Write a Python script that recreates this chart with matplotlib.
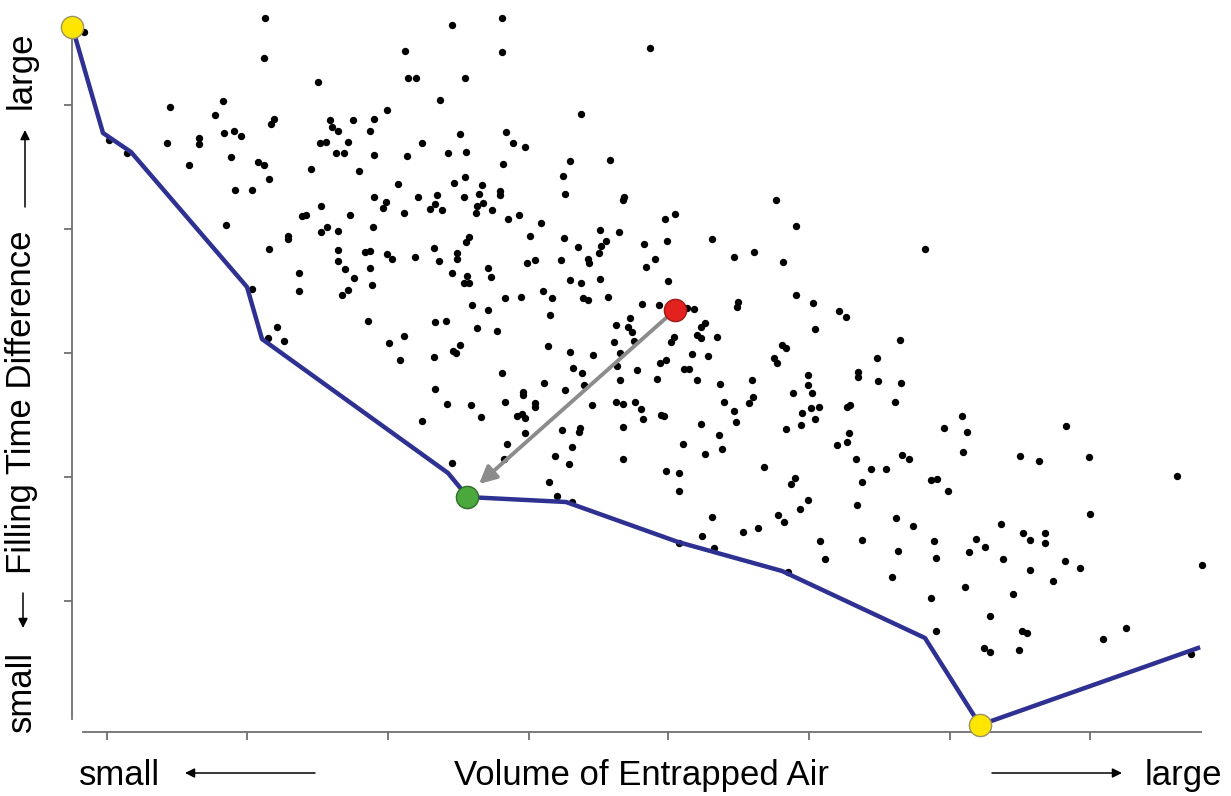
import matplotlib.pyplot as plt

plt.rcParams['font.family'] = ['Liberation Sans', 'DejaVu Sans']

# design evaluations (arbitrary units: x = entrapped air, y = filling time difference)
dots_x = [84, 109, 127, 265, 264, 318, 170, 223, 215, 274,
          271, 387, 330, 353, 374, 332, 338, 370, 167, 199,
          199, 224, 234, 241, 320, 326, 348, 336, 344, 374,
          189, 231, 258, 264, 269, 311, 359, 235, 252, 374,
          386, 383, 321, 302, 306, 350, 226, 288, 288, 327,
          321, 338, 373, 269, 338, 365, 370, 387, 392, 338,
          345, 370, 299, 354, 372, 299, 348, 342, 252, 368,
          277, 268, 284, 389,
          502, 452, 405, 502, 650, 408, 416, 465, 440, 581,
          460, 506, 422, 513, 525, 407, 448, 466, 503, 570,
          610, 398, 454, 465, 482, 563, 418, 437, 464, 479,
          500, 500, 565, 624, 623, 404, 435, 430, 442, 476,
          477, 483, 492, 508, 519, 541, 675, 665, 530, 469,
          466, 564, 600, 619, 578, 606, 601, 644, 667, 712,
          434, 415, 439, 457, 457, 535, 527, 561, 588, 589,
          599, 655, 646, 488, 491, 452, 467, 464, 469, 570,
          581, 600, 668, 543, 552, 505, 521, 583, 588, 608,
          472, 488, 642, 659, 687, 694, 550, 435, 446, 477,
          497, 404, 630, 616, 628, 632, 705, 701, 674, 697,
          701,
          776, 796, 734, 754, 783, 925, 796, 738, 737, 813,
          839, 846, 815, 717, 900,
          548, 460, 456, 453, 400, 434, 570, 593, 614, 634,
          671, 620, 692, 708, 660, 666, 573, 582, 617, 637,
          684, 689, 502, 544, 435, 565, 584, 620, 657, 697,
          523, 523, 447, 471, 505, 535, 535, 592, 616, 623,
          635, 641, 643, 661, 664, 481, 517, 522, 525, 422,
          562, 580, 579, 623, 701, 525, 507, 572, 555, 569,
          623, 683, 705, 504, 452, 666, 679, 679, 549, 557,
          572, 712, 702, 679,
          782, 786, 774, 777, 877, 858, 858, 808, 808, 720,
          752, 878, 901, 793, 812, 724, 753, 749, 895, 734,
          736, 802, 811, 819, 815, 801, 786, 847, 850, 849,
          847, 837, 719, 722, 962, 944, 967, 963, 1020, 856,
          871, 886, 902, 909, 764, 795, 791, 862, 931, 937,
          948, 808, 800, 857, 778, 784, 896, 913, 743, 758,
          1001, 1023, 1030, 820, 825, 862, 898, 934, 936, 976,
          985, 969, 1003, 1030, 714, 788, 892, 965, 1013, 931,
          990, 936, 1022, 1027, 984, 990, 1019,
          1066, 1039, 1089, 1177, 1090, 1045, 1045, 1065, 1080, 1053,
          1202, 1126, 1103, 1191]
dots_y = [768, 660, 647, 782, 742, 718, 693, 699, 685, 681,
          676, 690, 680, 680, 681, 673, 669, 669, 657, 662,
          656, 667, 669, 664, 657, 658, 658, 647, 647, 645,
          635, 643, 638, 635, 621, 631, 629, 610, 610, 603,
          598, 592, 594, 584, 585, 585, 575, 564, 561, 573,
          568, 569, 573, 551, 550, 548, 549, 546, 541, 539,
          531, 532, 527, 522, 515, 509, 510, 505, 511, 479,
          473, 462, 459, 457,
          782, 775, 749, 748, 752, 722, 722, 722, 700, 686,
          666, 668, 657, 657, 653, 644, 647, 648, 636, 639,
          640, 616, 617, 623, 615, 624, 603, 605, 603, 606,
          609, 605, 606, 603, 600, 587, 596, 591, 590, 587,
          594, 597, 590, 581, 585, 577, 586, 581, 564, 563,
          558, 562, 570, 568, 553, 559, 554, 556, 559, 561,
          552, 543, 539, 547, 541, 540, 537, 540, 541, 537,
          547, 541, 533, 532, 523, 527, 524, 517, 517, 520,
          517, 521, 519, 509, 502, 502, 503, 502, 500, 503,
          495, 490, 496, 495, 492, 491, 485, 478, 479, 472,
          469, 464, 482, 475, 473, 468, 477, 473, 463, 465,
          462,
          600, 574, 543, 548, 538, 551, 505, 498, 493, 497,
          489, 483, 471, 463, 460,
          454, 455, 447, 449, 440, 443, 448, 445, 458, 459,
          458, 447, 446, 444, 437, 440, 432, 427, 434, 430,
          431, 431, 427, 417, 411, 410, 415, 420, 421, 420,
          408, 405, 396, 395, 398, 397, 393, 395, 398, 396,
          398, 391, 381, 385, 384, 383, 384, 386, 382, 379,
          370, 372, 368, 373, 376, 367, 356, 353, 344, 336,
          341, 356, 346, 341, 337, 329, 327, 309, 318, 304,
          298, 283, 264, 257,
          455, 452, 442, 437, 442, 428, 423, 425, 415, 416,
          420, 419, 417, 407, 407, 398, 403, 397, 398, 389,
          378, 387, 392, 393, 381, 375, 371, 393, 395, 367,
          358, 355, 365, 351, 384, 372, 368, 348, 344, 341,
          331, 331, 345, 341, 333, 322, 316, 318, 320, 321,
          309, 300, 291, 295, 285, 278, 282, 274, 268, 272,
          276, 267, 260, 259, 241, 260, 249, 259, 242, 261,
          253, 248, 241, 230, 252, 228, 223, 213, 206, 202,
          184, 169, 169, 167, 152, 148, 150,
          374, 339, 343, 324, 286, 267, 257, 239, 232, 219,
          235, 172, 161, 146]

# pareto front
front_x = [72, 103, 131, 247, 262, 448, 462, 467, 566, 678, 782, 925, 980, 1198]
front_y = [774, 667, 648, 513, 461, 327, 310, 303, 298, 258, 229, 162, 75, 152]

# extreme designs, initial and improved design
ends_x = [72, 980]
ends_y = [773, 75]
start_pt = (675, 490)
best_pt = (467, 303)
arrow_tip = (479, 316)

x_ticks = [107, 247, 388, 529, 668, 809, 950, 1090]
y_ticks = [199, 323, 447, 571, 695]

fig = plt.figure(figsize=(12.31, 7.96), dpi=100)
ax = fig.add_axes([0, 0, 1, 1])
ax.set_xlim(0, 1231)
ax.set_ylim(4, 800)

for s in ['top', 'right']:
    ax.spines[s].set_visible(False)
ax.spines['left'].set_position(('data', 72))
ax.spines['left'].set_bounds(81, 775)
ax.spines['bottom'].set_position(('data', 68))
ax.spines['bottom'].set_bounds(83, 1201)
for s in ['left', 'bottom']:
    ax.spines[s].set_color('#707070')
    ax.spines[s].set_linewidth(1.3)
ax.set_xticks(x_ticks)
ax.set_yticks(y_ticks)
ax.set_xticklabels([])
ax.set_yticklabels([])
ax.tick_params(direction='out', length=6, width=1.3, color='#707070')

ax.scatter(dots_x, dots_y, s=28, c='black', linewidths=0, zorder=2)
ax.plot(front_x, front_y, color='#2e3192', lw=3.2, zorder=3)

ax.annotate('', xy=arrow_tip, xytext=start_pt,
            arrowprops=dict(arrowstyle='-|>', color='#8c8c8c', lw=2.8,
                            mutation_scale=26, shrinkA=8, shrinkB=0), zorder=4)

ax.plot(ends_x, ends_y, 'o', ms=16, mfc='#ffe600', mec='#9a9460', mew=1, zorder=5)
ax.plot(*best_pt, 'o', ms=16, mfc='#4aa83c', mec='#2f6e2a', mew=1, zorder=5)
ax.plot(*start_pt, 'o', ms=16, mfc='#e3211f', mec='#a01818', mew=1, zorder=5)

# axis captions
fs = 25
ax.text(120, 15, 'small', fontsize=fs, ha='center', va='baseline')
ax.text(642, 15, 'Volume of Entrapped Air', fontsize=fs, ha='center', va='baseline')
ax.text(1183, 15, 'large', fontsize=fs, ha='center', va='baseline')
arr = dict(arrowstyle='-|>', color='black', lw=1.1, mutation_scale=14, shrinkA=0, shrinkB=0)
ax.annotate('', xy=(185, 27), xytext=(315, 27), arrowprops=arr)
ax.annotate('', xy=(1122, 27), xytext=(992, 27), arrowprops=arr)

ax.text(38, 730, 'large', fontsize=fs, rotation=90, ha='right', va='center')
ax.text(38, 398, 'Filling Time Difference', fontsize=fs, rotation=90, ha='right', va='center')
ax.text(38, 109, 'small', fontsize=fs, rotation=90, ha='right', va='center')
ax.annotate('', xy=(25, 670), xytext=(25, 593), arrowprops=arr)
ax.annotate('', xy=(23, 172), xytext=(23, 207), arrowprops=arr)

fig.savefig('out.png', dpi=100)
